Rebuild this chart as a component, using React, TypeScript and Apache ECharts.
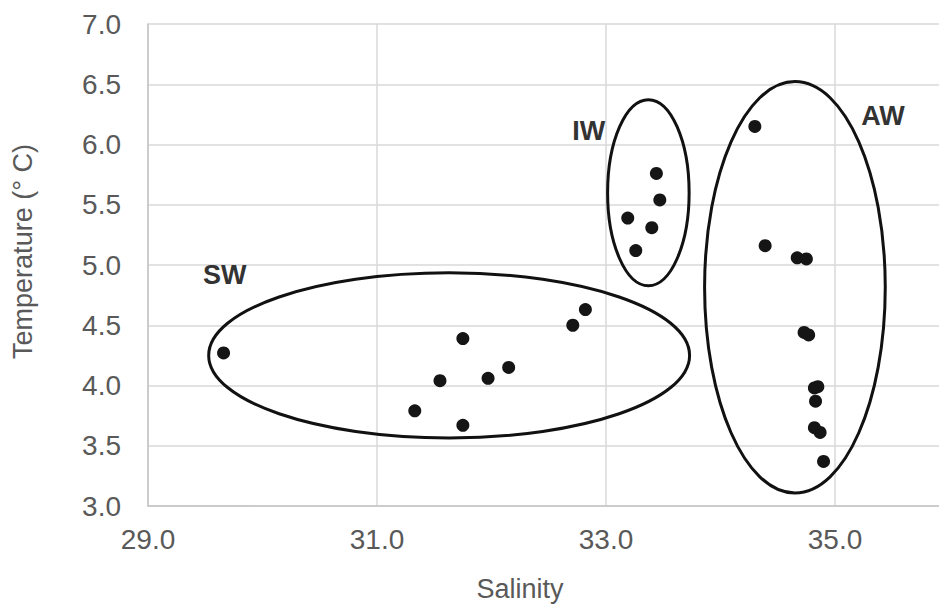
import React, { useEffect, useRef } from "react";
import * as echarts from "echarts";

// Observations: [salinity, temperature]
const swPoints: number[][] = [
  [29.66, 4.27], [31.33, 3.79], [31.55, 4.04], [31.75, 4.39], [31.75, 3.67],
  [31.97, 4.06], [32.15, 4.15], [32.71, 4.5], [32.82, 4.63],
];
const iwPoints: number[][] = [
  [33.44, 5.76], [33.47, 5.54], [33.19, 5.39], [33.4, 5.31], [33.26, 5.12],
];
const awPoints: number[][] = [
  [34.3, 6.15], [34.39, 5.16], [34.67, 5.06], [34.75, 5.05],
  [34.73, 4.44], [34.77, 4.42], [34.82, 3.98], [34.85, 3.99],
  [34.83, 3.87], [34.82, 3.65], [34.87, 3.61], [34.9, 3.37],
];

// Water mass ellipses: [centerSalinity, centerTemp, radiusSalinity, radiusTemp]
const ellipses: number[][] = [
  [31.63, 4.25, 2.1, 0.685],
  [33.37, 5.6, 0.356, 0.772],
  [34.65, 4.815, 0.789, 1.707],
];

// Water mass labels: [salinity, temperature]
const massNames: string[] = ["SW", "IW", "AW"];
const massLabelPos: number[][] = [
  [29.67, 4.92],
  [32.85, 6.11],
  [35.42, 6.24],
];

const xMin = 29;
const xMax = 36;
const xInterval = 2;
const yMin = 3;
const yMax = 7;
const yInterval = 0.5;

const xTitle = "Salinity";
const yTitle = "Temperature (° C)";

const FONT = "'Liberation Sans', Arial, sans-serif";

export default function App() {
  const ref = useRef<HTMLDivElement>(null);
  useEffect(() => {
    if (!ref.current) return;
    const chart = echarts.init(ref.current, null, { renderer: "svg" });
    const points = [...swPoints, ...iwPoints, ...awPoints];
    chart.setOption({
      animation: false,
      backgroundColor: "#ffffff",
      textStyle: { fontFamily: FONT },
      grid: {
        left: 148,
        top: 24,
        width: 801.5,
        height: 482,
        containLabel: false,
        outerBoundsMode: "none",
      },
      xAxis: {
        type: "value",
        min: xMin,
        max: xMax,
        interval: xInterval,
        axisLine: { show: true, lineStyle: { color: "#c4c4c4", width: 1.5 } },
        axisTick: { show: false },
        splitLine: { show: true, lineStyle: { color: "#d9d9d9", width: 1.5 } },
        axisLabel: {
          color: "#595959",
          fontSize: 28,
          fontFamily: FONT,
          margin: 19,
          showMaxLabel: false,
          formatter: (v: number) => v.toFixed(1),
        },
      },
      yAxis: {
        type: "value",
        min: yMin,
        max: yMax,
        interval: yInterval,
        axisLine: { show: true, lineStyle: { color: "#c4c4c4", width: 1.5 } },
        axisTick: { show: false },
        splitLine: { show: true, lineStyle: { color: "#d9d9d9", width: 1.5 } },
        axisLabel: {
          color: "#595959",
          fontSize: 28,
          fontFamily: FONT,
          margin: 27,
          formatter: (v: number) => v.toFixed(1),
        },
      },
      graphic: [
        {
          type: "text",
          x: 23,
          y: 251.5,
          rotation: Math.PI / 2,
          style: {
            text: yTitle,
            fontSize: 27,
            fontFamily: FONT,
            fill: "#595959",
            align: "center",
            verticalAlign: "middle",
          },
        },
        {
          type: "text",
          x: 520,
          y: 589,
          style: {
            text: xTitle,
            fontSize: 27,
            fontFamily: FONT,
            fill: "#595959",
            align: "center",
            verticalAlign: "middle",
          },
        },
      ],
      series: [
        {
          type: "custom",
          data: ellipses,
          silent: true,
          z: 3,
          renderItem: (params: any, api: any) => {
            const c = api.coord([api.value(0), api.value(1)]);
            const s = api.size([api.value(2), api.value(3)]);
            return {
              type: "ellipse",
              shape: { cx: c[0], cy: c[1], rx: s[0], ry: s[1] },
              style: { fill: "none", stroke: "#111111", lineWidth: 3 },
            };
          },
        },
        {
          type: "custom",
          data: massLabelPos.map((p, i) => [p[0], p[1], i]),
          silent: true,
          z: 4,
          renderItem: (params: any, api: any) => {
            const c = api.coord([api.value(0), api.value(1)]);
            return {
              type: "text",
              x: c[0],
              y: c[1],
              style: {
                text: massNames[api.value(2)],
                fontSize: 27,
                fontWeight: "bold",
                fontFamily: FONT,
                fill: "#333333",
                align: "center",
                verticalAlign: "middle",
              },
            };
          },
        },
        {
          type: "scatter",
          data: points,
          symbol: "circle",
          symbolSize: 13,
          itemStyle: { color: "#151515", opacity: 1 },
          z: 5,
        },
      ],
    });
    return () => chart.dispose();
  }, []);
  return (
    <div
      ref={ref}
      style={{ position: "fixed", left: 0, top: 0, width: 939, height: 606 }}
    />
  );
}
